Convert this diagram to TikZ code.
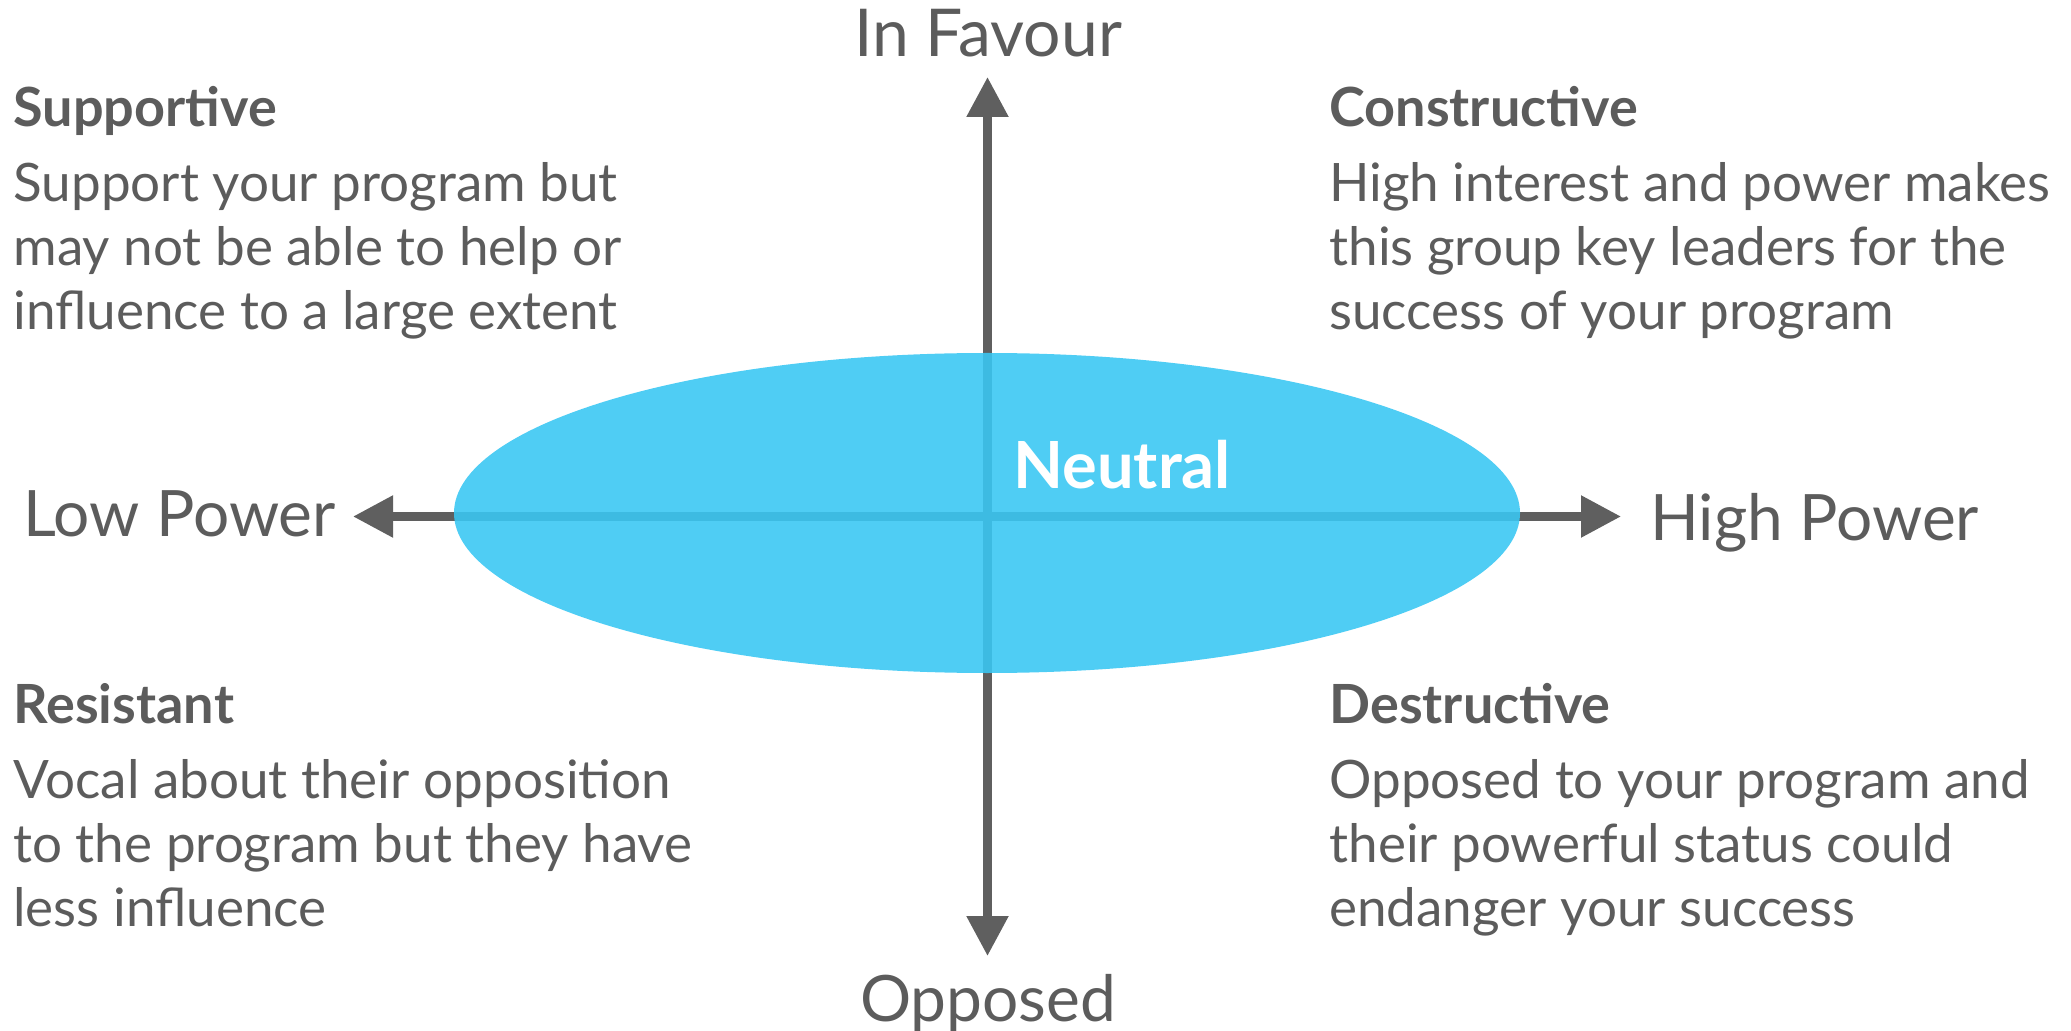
\documentclass[tikz,border=0pt]{standalone}
\usepackage{fontspec}
\setmainfont{Lato}
\usetikzlibrary{arrows.meta}
\definecolor{axisgrey}{HTML}{5F5F5F}
\definecolor{txtgrey}{HTML}{5C5C5C}
\definecolor{neutralblue}{RGB}{57,199,243}
\begin{document}
\begin{tikzpicture}[x=0.5pt,y=-0.5pt,
  axis/.style={draw=axisgrey,line width=4.25pt,-{Triangle[length=20pt,width=20pt]}},
  axislabel/.style={inner sep=0pt,text=txtgrey,font=\fontsize{32pt}{38pt}\selectfont},
  heading/.style={inner sep=0pt,anchor=base west,text=txtgrey,font=\fontsize{27pt}{32pt}\selectfont\bfseries},
  body/.style={inner sep=0pt,anchor=base west,text=txtgrey,align=left,font=\fontsize{26.5pt}{32pt}\selectfont},
]
\useasboundingbox (0,0) rectangle (2071,1031);
\coordinate (O) at (987.5,516.5);
\coordinate (top) at (987.5,77);
\coordinate (bot) at (987.5,956);
\coordinate (lft) at (353,516.5);
\coordinate (rgt) at (1621,516.5);
\draw[axis] (O) -- (top);
\draw[axis] (O) -- (bot);
\draw[axis] (O) -- (lft);
\draw[axis] (O) -- (rgt);
\fill[neutralblue,fill opacity=0.89] (987,513) ellipse [x radius=533,y radius=160];
\node[inner sep=0pt,anchor=base west,text=white,font=\fontsize{32.5pt}{38pt}\selectfont\bfseries] (neutral) at (1013,489) {Neutral};
\node[axislabel,anchor=base,font=\fontsize{33pt}{38pt}\selectfont] (favour) at (988,57) {In Favour};
\node[axislabel,anchor=base] (opposed) at (988,1021) {Opposed};
\node[axislabel,anchor=base west] (low) at (23,537) {Low Power};
\node[axislabel,anchor=base west] (high) at (1650,540) {High Power};
\node[heading] (suph) at (13,127) {Supportive};
\node[body] (supb) at (13,330) {Support your program but\\may not be able to help or\\influence to a large extent};
\node[heading] (conh) at (1329,127) {Constructive};
\node[body] (conb) at (1329,330) {High interest and power makes\\this group key leaders for the\\success of your program};
\node[heading] (resh) at (13,723) {Resistant};
\node[body] (resb) at (13,926) {Vocal about their opposition\\to the program but they have\\less influence};
\node[heading] (desh) at (1329,723) {Destructive};
\node[body] (desb) at (1329,926) {Opposed to your program and\\their powerful status could\\endanger your success};
\end{tikzpicture}
\end{document}
